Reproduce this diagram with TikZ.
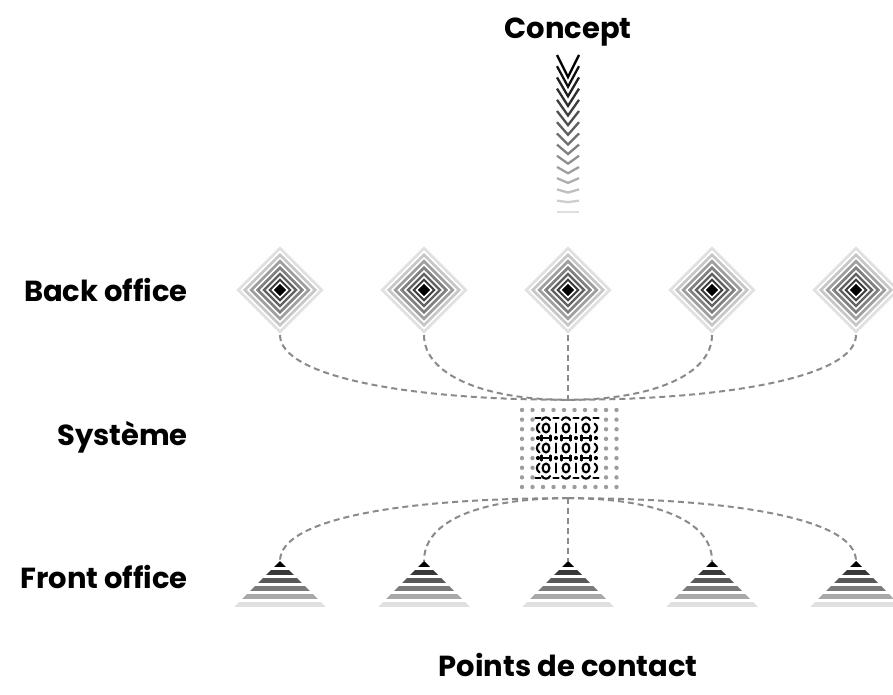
\documentclass[tikz,border=0pt]{standalone}
\usepackage{fontspec}
\setmainfont{Poppins}
\usetikzlibrary{calc,shapes.geometric}
\definecolor{LinkGray}{HTML}{8A8A8A}
\definecolor{DotGray}{HTML}{9C9C9C}
\tikzset{
  link/.style={draw=LinkGray, line width=2pt, dash pattern=on 6pt off 4pt},
  lbl/.style={font=\bfseries\fontsize{29}{34}\selectfont, inner sep=0pt},
  ring/.style={draw=white, line width=1.5pt},
  pat/.style={line width=2.1pt, line cap=round},
}
\begin{document}
\begin{tikzpicture}[x=1pt, y=-1pt]
\useasboundingbox (0,0) rectangle (893,695);

% labels
\node[lbl, anchor=base] (concept) at (568,39) {Concept};
\node[lbl, anchor=base east] (lback) at (188,301) {Back office};
\node[lbl, anchor=base east] (lsys) at (188,445) {Système};
\node[lbl, anchor=base east] (lfront) at (188,588) {Front office};
\node[lbl, anchor=base] (contact) at (568,676) {Points de contact};

% chevrons
\foreach \i in {0,...,14}
    {
        \pgfmathsetmacro{\c}{100-87*\i/14}
        \draw[black!\c, line width=2.3pt] (557,{55+11.2*\i}) -- (568,{55+11.2*\i+22*(1-\i/14)}) -- (579,{55+11.2*\i});
    }

% systeme
\node[minimum width=100pt, minimum height=98pt, inner sep=0pt] (sys) at (568,449) {};
\foreach \cx in {0,...,9}
    \foreach \cy in {0,...,8}
        {
            \pgfmathtruncatemacro{\inner}{(\cx>1)*(\cx<8)*(\cy>0)*(\cy<8)}
            \ifnum\inner=0 \fill[DotGray] ({522+10.5*\cx},{410+9.625*\cy}) circle (2.2pt); \fi
        }
\foreach \oy in {428,448,468}
    {
        \foreach \ox in {546,566,586}
            \draw[pat] (\ox,\oy) ellipse (3.4pt and 4.4pt);
        \foreach \ix in {556,576}
            \draw[pat] (\ix,\oy-4.5) -- (\ix,\oy+4.5);
        \draw[pat] (539.5,\oy-4.5) .. controls (536,\oy-2) and (536,\oy+2) .. (539.5,\oy+4.5);
        \draw[pat] (594.5,\oy-4.5) .. controls (598,\oy-2) and (598,\oy+2) .. (594.5,\oy+4.5);
    }
\foreach \hy in {438,458}
    {
        \foreach \ox in {546,566,586}
            {
                \draw[pat] (\ox-4,\hy) -- (\ox+4,\hy);
                \draw[pat] (\ox-4.5,\hy-2.5) -- (\ox-4.5,\hy+2.5);
                \draw[pat] (\ox+4.5,\hy-2.5) -- (\ox+4.5,\hy+2.5);
            }
        \foreach \dx in {538,556,576,596}
            \fill (\dx,\hy) circle (2.1pt);
    }
\foreach \ox in {546,566,586}
    {
        \draw[pat] (\ox-4,420) .. controls (\ox-3,416.5) and (\ox+3,416.5) .. (\ox+4,420);
        \draw[pat] (\ox-4,476) .. controls (\ox-3,479.5) and (\ox+3,479.5) .. (\ox+4,476);
    }
\foreach \dx in {538,556,576,596}
    {
        \draw[pat] (\dx-2.5,418) -- (\dx+2.5,418);
        \draw[pat] (\dx-2.5,478) -- (\dx+2.5,478);
    }

% back office
\foreach \x [count=\i] in {280,424,568,712,856}
    {
        \node[diamond, minimum size=90pt, inner sep=0pt, outer sep=0pt, fill=black!12, ring] (b\i) at (\x,290) {};
    }
\foreach \i in {1,2,4,5}
    \draw[link] (b\i.south) .. controls ($(b\i.south)+(0,40)$) and ($(sys.north)!0.58!(sys.north -| b\i.south)$) .. (sys.north);
\draw[link] (b3.south) -- (sys.north);
\foreach \i in {1,...,5}
    \foreach \s/\c in {38.5/22, 32/38, 25.5/50, 19/62, 13/76, 7.5/100}
        \filldraw[fill=black!\c, ring] ($(b\i)+(-\s,0)$) -- ($(b\i)+(0,-\s)$) -- ($(b\i)+(\s,0)$) -- ($(b\i)+(0,\s)$) -- cycle;

% front office
\foreach \x [count=\i] in {280,424,568,712,856}
    {
        \coordinate (f\i) at (\x,561);
    }
\foreach \i in {1,2,4,5}
    \draw[link] (sys.south) .. controls ($(sys.south)!0.58!(sys.south -| f\i)$) and ($(f\i)+(0,-42)$) .. (f\i);
\draw[link] (sys.south) -- (f3);
\foreach \x [count=\i] in {280,424,568,712,856}
    {
        \begin{scope}
            \clip ($(f\i)+(-46,46)$) -- (f\i) -- ($(f\i)+(46,46)$) -- cycle;
            \fill[black] (\x-50,555) rectangle (\x+50,567);
            \foreach \a/\c in {570/78, 578/65, 586/52, 594/34, 602/12}
                \fill[black!\c] (\x-50,\a) rectangle (\x+50,\a+4.6);
        \end{scope}
    }
\end{tikzpicture}
\end{document}
